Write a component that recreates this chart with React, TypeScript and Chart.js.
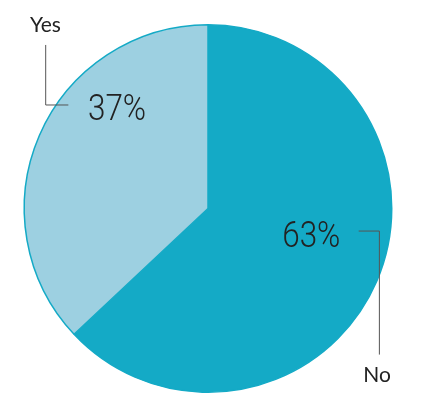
import React, { useEffect, useRef } from "react";
import { Chart, registerables } from "chart.js";
Chart.register(...registerables);

const categories = ["No", "Yes"];
const values = [63, 37];
const valueLabels = ["63%", "37%"];
const colors = ["#14AAC6", "#9DD0E1"];

const labelPlugin = {
  id: "labels",
  afterDraw(chart: any) {
    const ctx = chart.ctx;
    const arc = chart.getDatasetMeta(0).data[0];
    if (!arc) return;
    const cx = arc.x, cy = arc.y, r = arc.outerRadius;
    const P = (fx: number, fy: number) => [cx + r * fx, cy + r * fy];
    ctx.save();
    ctx.fillStyle = "#222";
    ctx.textAlign = "center";
    ctx.textBaseline = "middle";
    const drawNarrow = (t: string, x: number, y: number) => {
      ctx.save();
      ctx.translate(x, y);
      ctx.scale(0.85, 1);
      ctx.font = "300 37px Roboto, 'DejaVu Sans Condensed', sans-serif";
      ctx.fillText(t, 0, 0);
      ctx.restore();
    };
    const p63 = P(0.562, 0.157);
    drawNarrow(valueLabels[0], p63[0], p63[1]);
    const p37 = P(-0.495, -0.53);
    drawNarrow(valueLabels[1], p37[0], p37[1]);
    ctx.font = "21px Lato, 'Open Sans', sans-serif";
    const yes = P(-0.885, -1.0);
    ctx.fillText(categories[1], yes[0], yes[1]);
    const no = P(0.92, 0.91);
    ctx.fillText(categories[0], no[0], no[1]);
    ctx.strokeStyle = "#555";
    ctx.lineWidth = 1;
    ctx.beginPath();
    const a1 = P(-0.886, -0.89), a2 = P(-0.886, -0.566), a3 = P(-0.76, -0.566);
    ctx.moveTo(a1[0] + 0.5, a1[1]);
    ctx.lineTo(a2[0] + 0.5, a2[1] + 0.5);
    ctx.lineTo(a3[0], a3[1] + 0.5);
    const b1 = P(0.82, 0.12), b2 = P(0.93, 0.12), b3 = P(0.93, 0.795);
    ctx.moveTo(b1[0], b1[1] + 0.5);
    ctx.lineTo(b2[0] + 0.5, b2[1] + 0.5);
    ctx.lineTo(b3[0] + 0.5, b3[1]);
    ctx.stroke();
    ctx.restore();
  },
};

export default function App() {
  const ref = useRef<HTMLCanvasElement>(null);
  useEffect(() => {
    const chart = new Chart(ref.current!, {
      type: "pie",
      data: {
        labels: categories,
        datasets: [
          {
            data: values,
            backgroundColor: colors,
            borderColor: "#14AAC6",
            borderWidth: 1.5,
          },
        ],
      },
      options: {
        animation: false,
        responsive: true,
        maintainAspectRatio: false,
        layout: { padding: { left: 23.5, right: 32.5, top: 24, bottom: 17 } },
        plugins: { legend: { display: false }, tooltip: { enabled: false } },
      },
      plugins: [labelPlugin],
    });
    return () => chart.destroy();
  }, []);
  return (
    <div style={{ position: "fixed", left: 0, top: 0, width: 425, height: 410, background: "#fff" }}>
      <canvas ref={ref} />
    </div>
  );
}
